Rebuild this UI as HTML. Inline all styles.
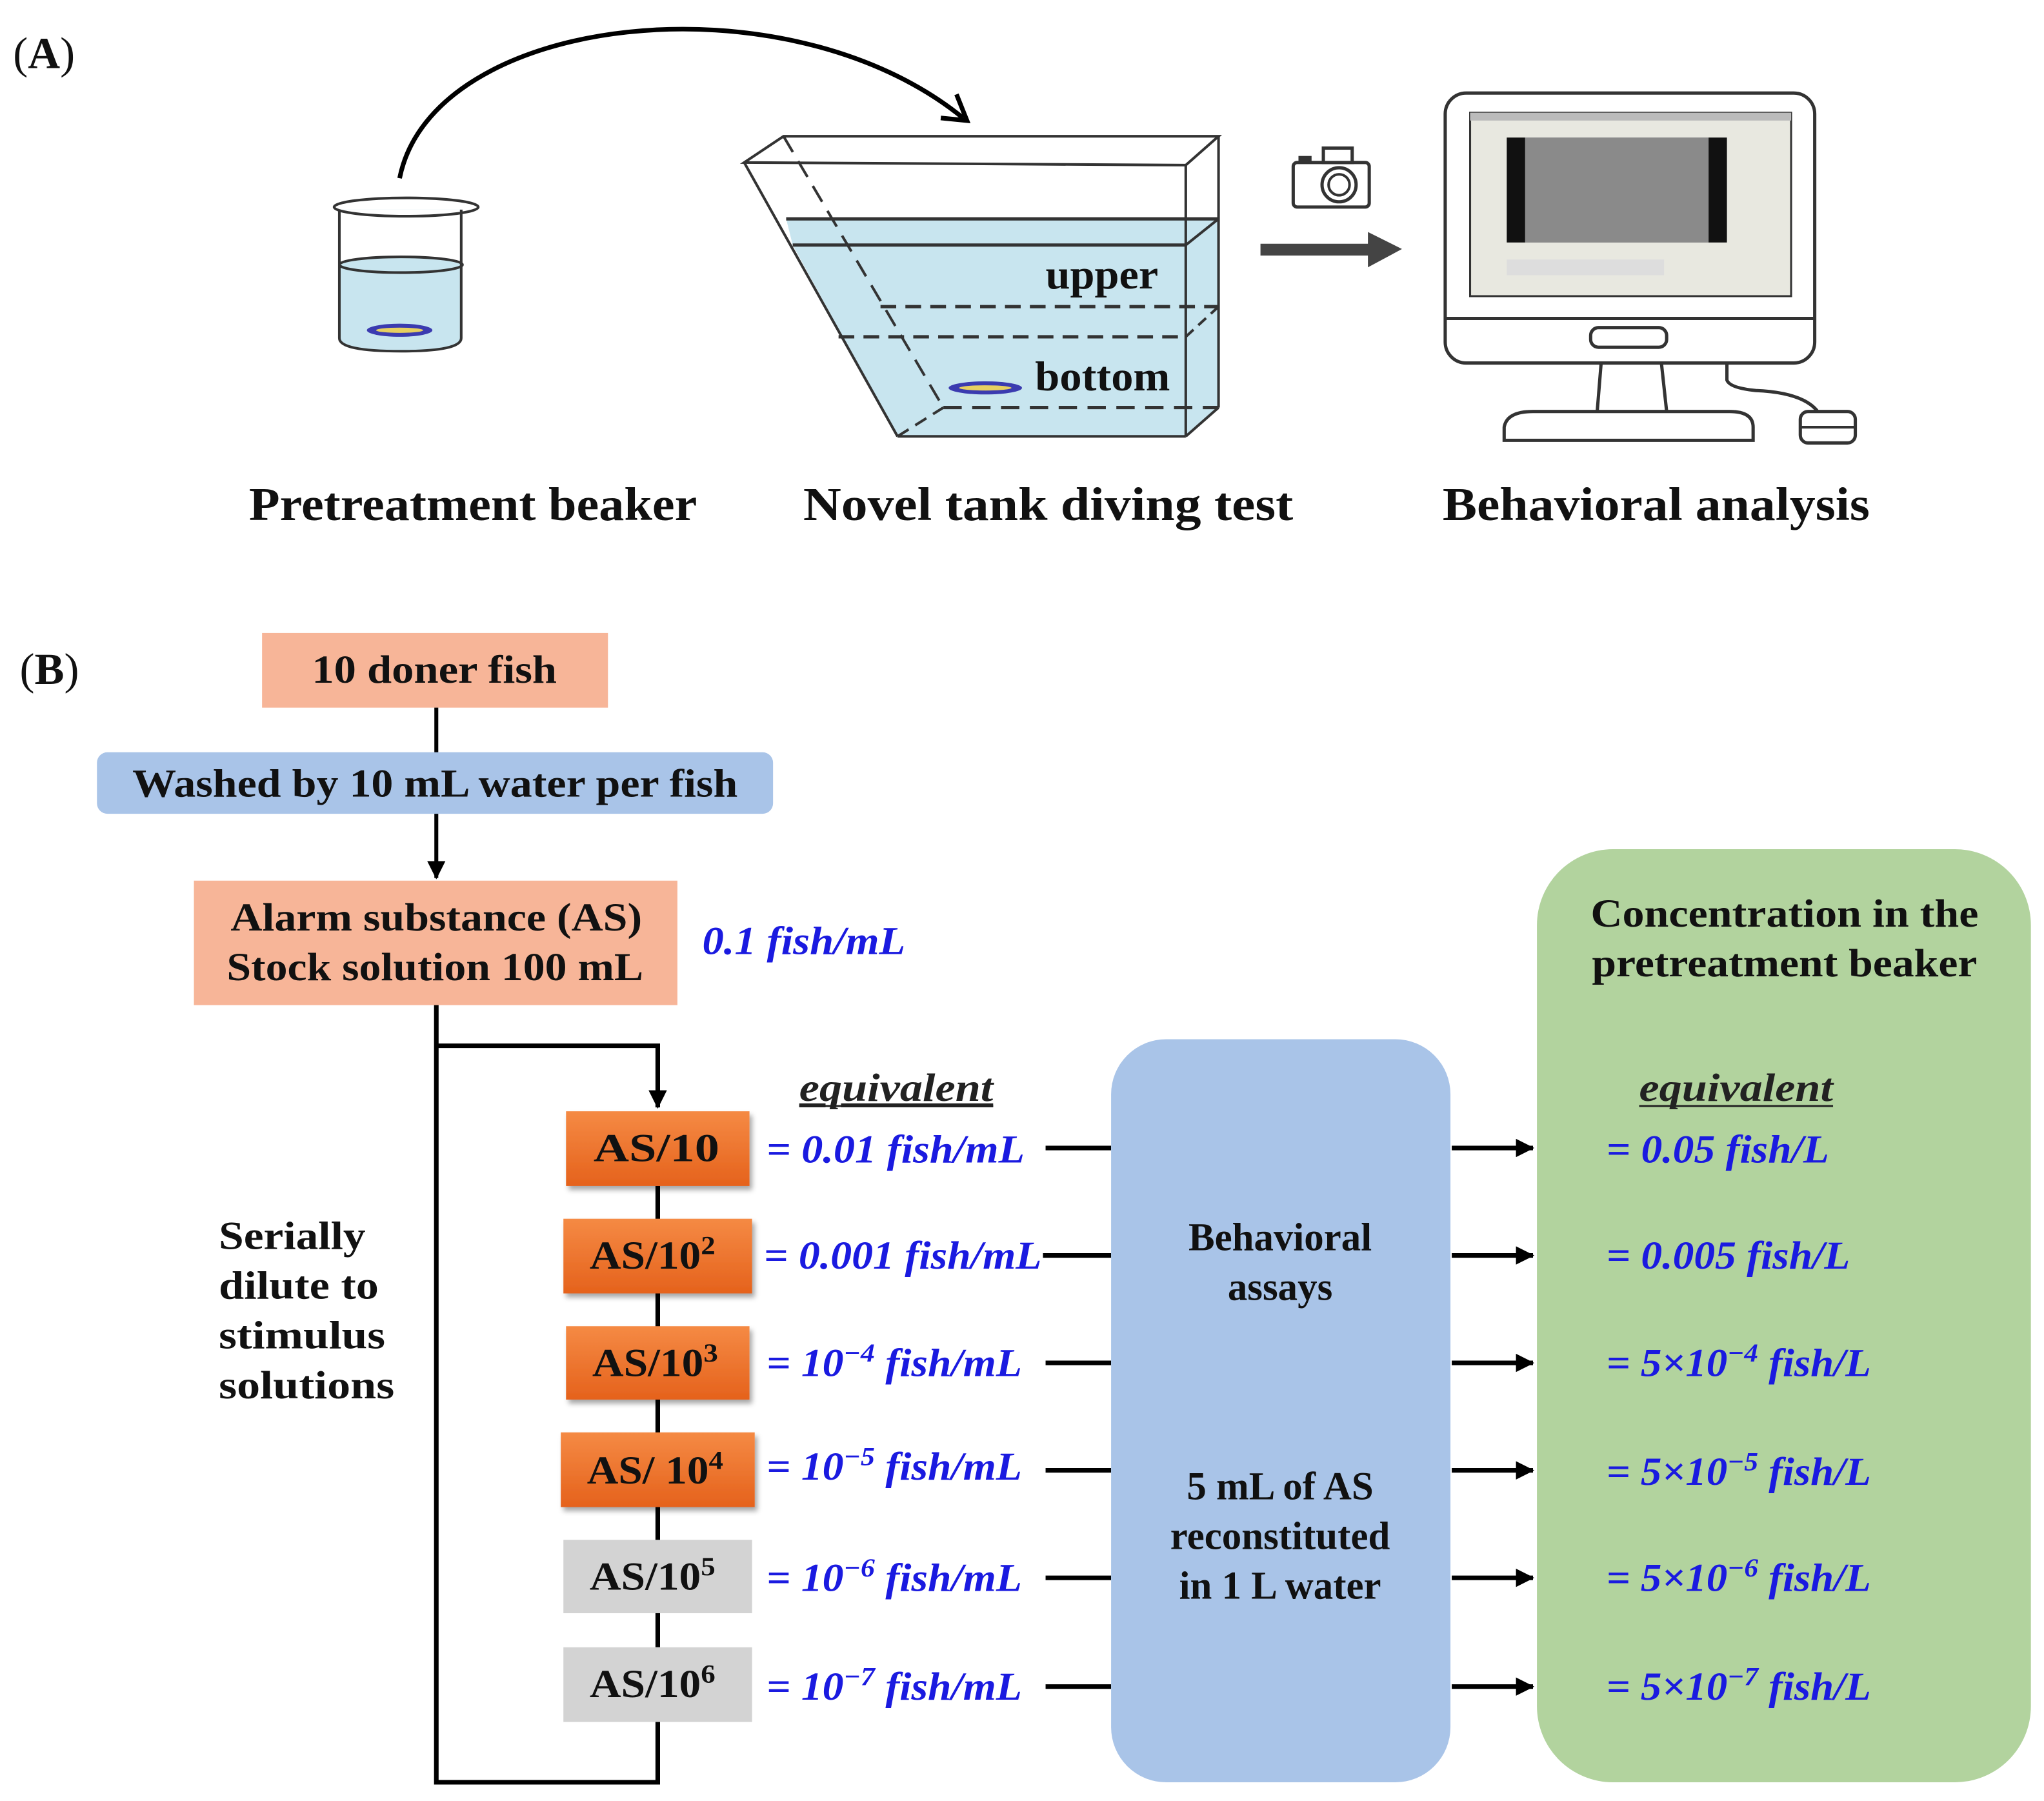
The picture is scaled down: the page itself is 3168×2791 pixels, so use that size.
<!DOCTYPE html>
<html><head><meta charset="utf-8"><style>
html,body{margin:0;padding:0;background:#fff;}
svg{display:block;}
.s{font-family:"Liberation Serif",serif;font-weight:bold;fill:#111;}
.v{font-family:"Liberation Serif",serif;font-weight:bold;font-style:italic;fill:#1a1ae0;}
</style></head><body>
<svg width="3168" height="2791" viewBox="0 0 1560 1374.3" preserveAspectRatio="none" xmlns="http://www.w3.org/2000/svg">
<defs>
<marker id="ah" markerWidth="8" markerHeight="8" refX="7" refY="4" orient="auto" markerUnits="userSpaceOnUse"><path d="M0,0 L8,4 L0,8 z" fill="#000"/></marker>
<marker id="ah2" markerWidth="14" markerHeight="14" refX="13" refY="7" orient="auto" markerUnits="userSpaceOnUse"><path d="M0,0 L14,7 L0,14 z" fill="#000"/></marker>
<linearGradient id="og" x1="0" y1="0" x2="0" y2="1"><stop offset="0" stop-color="#f58a44"/><stop offset="1" stop-color="#e5621c"/></linearGradient>
<filter id="sh" x="-10%" y="-10%" width="130%" height="140%"><feDropShadow dx="2" dy="3" stdDeviation="2" flood-color="#000" flood-opacity="0.35"/></filter>
</defs>
<!-- (A) -->
<text class="s" x="10" y="52" font-size="34" font-weight="normal" style="font-weight:normal">(<tspan font-weight="bold">A</tspan>)</text>
<!-- arc -->
<path d="M305,136 C330,10 600,-20 735,90" fill="none" stroke="#000" stroke-width="3.5"/>
<path d="M718,90 L738,92 L730,72" fill="none" stroke="#000" stroke-width="3.5"/>
<!-- beaker -->
<path d="M259,160 L259,258 Q259,268 306,268 Q352,268 352,258 L352,160" fill="#c8e5ef" stroke="none"/>
<rect x="259" y="160" width="93" height="42" fill="#fff"/>
<ellipse cx="306" cy="202" rx="47" ry="6" fill="#c8e5ef" stroke="#333" stroke-width="2"/>
<path d="M259,160 L259,258 Q259,268 306,268 Q352,268 352,258 L352,160" fill="none" stroke="#333" stroke-width="2"/>
<ellipse cx="310" cy="158" rx="55" ry="7" fill="none" stroke="#333" stroke-width="2"/>
<ellipse cx="305" cy="252" rx="25" ry="5" fill="#3b3bb0"/><ellipse cx="305" cy="252" rx="18" ry="2" fill="#e8d060"/>
<!-- tank -->
<polygon points="600,167 930,167 930,311 905,333 685,333 605,187" fill="#c8e5ef"/>
<polygon points="568,124 598,104 930,104 905,126" fill="none" stroke="#333" stroke-width="2"/>
<line x1="568" y1="124" x2="685" y2="333" stroke="#333" stroke-width="2"/>
<line x1="905" y1="126" x2="905" y2="333" stroke="#333" stroke-width="2"/>
<line x1="930" y1="104" x2="930" y2="311" stroke="#333" stroke-width="2"/>
<line x1="685" y1="333" x2="905" y2="333" stroke="#333" stroke-width="2"/>
<line x1="905" y1="333" x2="930" y2="311" stroke="#333" stroke-width="2"/>
<line x1="598" y1="104" x2="720" y2="311" stroke="#333" stroke-width="2" stroke-dasharray="14,8"/>
<line x1="720" y1="311" x2="930" y2="311" stroke="#333" stroke-width="2.5" stroke-dasharray="14,8"/>
<line x1="685" y1="333" x2="720" y2="311" stroke="#333" stroke-width="2" stroke-dasharray="10,6"/>
<line x1="600" y1="167" x2="930" y2="167" stroke="#333" stroke-width="2.5"/>
<line x1="605" y1="187" x2="905" y2="187" stroke="#333" stroke-width="2.5"/>
<line x1="905" y1="187" x2="930" y2="167" stroke="#333" stroke-width="2"/>
<line x1="672" y1="234" x2="930" y2="234" stroke="#333" stroke-width="2.5" stroke-dasharray="12,7"/>
<line x1="640" y1="257" x2="905" y2="257" stroke="#333" stroke-width="2.5" stroke-dasharray="12,7"/>
<line x1="905" y1="257" x2="930" y2="234" stroke="#333" stroke-width="2" stroke-dasharray="8,5"/>
<text class="s" x="798" y="220" font-size="32" font-weight="normal" textLength="86" lengthAdjust="spacingAndGlyphs">upper</text>
<text class="s" x="790" y="298" font-size="32" font-weight="normal" textLength="103" lengthAdjust="spacingAndGlyphs">bottom</text>
<ellipse cx="752" cy="296" rx="28" ry="5" fill="#3b3bb0"/><ellipse cx="752" cy="296" rx="20" ry="2" fill="#e8d060"/>
<!-- camera -->
<rect x="987" y="124" width="58" height="34" rx="3" fill="#fff" stroke="#333" stroke-width="2.5"/>
<rect x="1010" y="113" width="22" height="11" fill="#fff" stroke="#333" stroke-width="2.5"/>
<rect x="991" y="119" width="10" height="5" fill="#333"/>
<circle cx="1022" cy="141" r="13" fill="none" stroke="#333" stroke-width="2.5"/>
<circle cx="1022" cy="141" r="8" fill="none" stroke="#333" stroke-width="2"/>
<!-- grey arrow -->
<rect x="962" y="186" width="84" height="9" fill="#444"/>
<polygon points="1044,177 1070,190 1044,204" fill="#444"/>
<!-- monitor -->
<rect x="1103" y="71" width="282" height="206" rx="16" fill="#fff" stroke="#333" stroke-width="2.5"/>
<line x1="1103" y1="243" x2="1385" y2="243" stroke="#333" stroke-width="2.5"/>
<rect x="1122" y="86" width="245" height="140" fill="#e8e8e0" stroke="#333" stroke-width="1.5"/>
<rect x="1122" y="86" width="245" height="6" fill="#bbb"/>
<rect x="1150" y="105" width="168" height="80" fill="#777"/>
<rect x="1150" y="105" width="14" height="80" fill="#111"/><rect x="1304" y="105" width="14" height="80" fill="#111"/>
<rect x="1164" y="105" width="140" height="80" fill="#8a8a8a"/>
<rect x="1150" y="198" width="120" height="12" fill="#ddd"/>
<rect x="1214" y="250" width="58" height="15" rx="6" fill="#fff" stroke="#333" stroke-width="2.5"/>
<path d="M1222,277 L1219,314 M1268,277 L1272,314" stroke="#333" stroke-width="2.5"/>
<path d="M1148,336 L1148,326 Q1150,314 1170,314 L1320,314 Q1338,314 1338,326 L1338,336 Z" fill="#fff" stroke="#333" stroke-width="2.5"/>
<path d="M1318,277 L1318,290 Q1320,296 1340,298 Q1388,300 1392,325" fill="none" stroke="#333" stroke-width="2.5"/>
<rect x="1374" y="314" width="42" height="24" rx="6" fill="#fff" stroke="#333" stroke-width="2.5"/>
<line x1="1374" y1="326" x2="1416" y2="326" stroke="#333" stroke-width="2"/>
<!-- A labels -->
<text class="s" x="190" y="397" font-size="36" textLength="342" lengthAdjust="spacingAndGlyphs">Pretreatment beaker</text>
<text class="s" x="613" y="397" font-size="36" textLength="374" lengthAdjust="spacingAndGlyphs">Novel tank diving test</text>
<text class="s" x="1101" y="397" font-size="36" textLength="326" lengthAdjust="spacingAndGlyphs">Behavioral analysis</text>

<!-- (B) -->
<text class="s" x="15" y="522" font-size="34" style="font-weight:normal">(<tspan font-weight="bold">B</tspan>)</text>
<rect x="200" y="483" width="264" height="57" fill="#f7b598"/>
<text class="s" x="238" y="521" font-size="30" textLength="187" lengthAdjust="spacingAndGlyphs">10 doner fish</text>
<line x1="333" y1="540" x2="333" y2="575" stroke="#000" stroke-width="3"/>
<rect x="74" y="574" width="516" height="47" rx="8" fill="#a9c4e8"/>
<text class="s" x="101" y="608" font-size="30" textLength="462" lengthAdjust="spacingAndGlyphs">Washed by 10 mL water per fish</text>
<line x1="333" y1="621" x2="333" y2="670" stroke="#000" stroke-width="3" marker-end="url(#ah2)"/>
<rect x="148" y="672" width="369" height="95" fill="#f7b598"/>
<text class="s" x="176" y="710" font-size="30" textLength="314" lengthAdjust="spacingAndGlyphs">Alarm substance (AS)</text>
<text class="s" x="173" y="748" font-size="30" textLength="318" lengthAdjust="spacingAndGlyphs">Stock solution 100 mL</text>
<text class="v" x="536" y="728" font-size="30" textLength="155" lengthAdjust="spacingAndGlyphs">0.1 fish/mL</text>
<!-- loop lines -->
<polyline points="333,767 333,1360 502,1360 502,1314" fill="none" stroke="#000" stroke-width="3.5"/>
<polyline points="333,798 502,798 502,845" fill="none" stroke="#000" stroke-width="3.5" marker-end="url(#ah2)"/>
<line x1="502" y1="905" x2="502" y2="1257" stroke="#000" stroke-width="3.5"/>
<text class="s" x="167" y="953" font-size="30" textLength="112" lengthAdjust="spacingAndGlyphs">Serially</text>
<text class="s" x="167" y="991" font-size="30" textLength="122" lengthAdjust="spacingAndGlyphs">dilute to</text>
<text class="s" x="167" y="1029" font-size="30" textLength="127" lengthAdjust="spacingAndGlyphs">stimulus</text>
<text class="s" x="167" y="1067" font-size="30" textLength="134" lengthAdjust="spacingAndGlyphs">solutions</text>
<!-- AS boxes -->
<g filter="url(#sh)">
<rect x="432" y="848" width="140" height="57" fill="url(#og)"/>
<rect x="430" y="930" width="144" height="57" fill="url(#og)"/>
<rect x="432" y="1012" width="140" height="56" fill="url(#og)"/>
<rect x="428" y="1093" width="148" height="57" fill="url(#og)"/>
</g>
<rect x="430" y="1175" width="144" height="56" fill="#d3d3d3"/>
<rect x="430" y="1257" width="144" height="57" fill="#d3d3d3"/>
<text class="s" x="453" y="886" font-size="30" fill="#222" textLength="96" lengthAdjust="spacingAndGlyphs">AS/10</text>
<text class="s" x="450" y="968" font-size="30" textLength="96" lengthAdjust="spacingAndGlyphs">AS/10<tspan font-size="20" dy="-11">2</tspan></text>
<text class="s" x="452" y="1050" font-size="30" textLength="96" lengthAdjust="spacingAndGlyphs">AS/10<tspan font-size="20" dy="-11">3</tspan></text>
<text class="s" x="448" y="1132" font-size="30" textLength="104" lengthAdjust="spacingAndGlyphs">AS/ 10<tspan font-size="20" dy="-11">4</tspan></text>
<text class="s" x="450" y="1213" font-size="30" textLength="96" lengthAdjust="spacingAndGlyphs">AS/10<tspan font-size="20" dy="-11">5</tspan></text>
<text class="s" x="450" y="1295" font-size="30" textLength="96" lengthAdjust="spacingAndGlyphs">AS/10<tspan font-size="20" dy="-11">6</tspan></text>
<!-- equivalent left -->
<text x="610" y="840" font-family="Liberation Serif,serif" font-weight="bold" font-style="italic" font-size="30" fill="#222" textLength="148" lengthAdjust="spacingAndGlyphs" text-decoration="underline">equivalent</text>
<line x1="610" y1="844" x2="758" y2="844" stroke="#222" stroke-width="1.5"/>
<text class="v" x="585" y="887" font-size="30" textLength="197" lengthAdjust="spacingAndGlyphs">= 0.01 fish/mL</text>
<text class="v" x="583" y="968" font-size="30" textLength="212" lengthAdjust="spacingAndGlyphs">= 0.001 fish/mL</text>
<text class="v" x="585" y="1050" font-size="30" textLength="195" lengthAdjust="spacingAndGlyphs">= 10<tspan font-size="20" dy="-11">−4</tspan><tspan dy="11"> fish/mL</tspan></text>
<text class="v" x="585" y="1129" font-size="30" textLength="195" lengthAdjust="spacingAndGlyphs">= 10<tspan font-size="20" dy="-11">−5</tspan><tspan dy="11"> fish/mL</tspan></text>
<text class="v" x="585" y="1214" font-size="30" textLength="195" lengthAdjust="spacingAndGlyphs">= 10<tspan font-size="20" dy="-11">−6</tspan><tspan dy="11"> fish/mL</tspan></text>
<text class="v" x="585" y="1297" font-size="30" textLength="195" lengthAdjust="spacingAndGlyphs">= 10<tspan font-size="20" dy="-11">−7</tspan><tspan dy="11"> fish/mL</tspan></text>
<g stroke="#000" stroke-width="3.5">
<line x1="798" y1="876" x2="848" y2="876"/>
<line x1="796" y1="958" x2="848" y2="958"/>
<line x1="798" y1="1040" x2="848" y2="1040"/>
<line x1="798" y1="1122" x2="848" y2="1122"/>
<line x1="798" y1="1204" x2="848" y2="1204"/>
<line x1="798" y1="1287" x2="848" y2="1287"/>
</g>
<!-- behavioral box -->
<rect x="848" y="793" width="259" height="567" rx="42" fill="#a9c4e8"/>
<text class="s" x="977" y="954" font-size="30" text-anchor="middle">Behavioral</text>
<text class="s" x="977" y="992" font-size="30" text-anchor="middle">assays</text>
<text class="s" x="977" y="1144" font-size="30" text-anchor="middle">5 mL of AS</text>
<text class="s" x="977" y="1182" font-size="30" text-anchor="middle">reconstituted</text>
<text class="s" x="977" y="1220" font-size="30" text-anchor="middle">in 1 L water</text>
<!-- green box -->
<rect x="1173" y="648" width="377" height="712" rx="58" fill="#b2d39e"/>
<g stroke="#000" stroke-width="3.5">
<line x1="1108" y1="876" x2="1170" y2="876" marker-end="url(#ah2)"/>
<line x1="1108" y1="958" x2="1170" y2="958" marker-end="url(#ah2)"/>
<line x1="1108" y1="1040" x2="1170" y2="1040" marker-end="url(#ah2)"/>
<line x1="1108" y1="1122" x2="1170" y2="1122" marker-end="url(#ah2)"/>
<line x1="1108" y1="1204" x2="1170" y2="1204" marker-end="url(#ah2)"/>
<line x1="1108" y1="1287" x2="1170" y2="1287" marker-end="url(#ah2)"/>
</g>
<text class="s" x="1362" y="707" font-size="30" text-anchor="middle" textLength="296" lengthAdjust="spacingAndGlyphs">Concentration in the</text>
<text class="s" x="1362" y="745" font-size="30" text-anchor="middle" textLength="294" lengthAdjust="spacingAndGlyphs">pretreatment beaker</text>
<text x="1251" y="840" font-family="Liberation Serif,serif" font-weight="bold" font-style="italic" font-size="30" fill="#222" textLength="148" lengthAdjust="spacingAndGlyphs">equivalent</text>
<line x1="1251" y1="844" x2="1399" y2="844" stroke="#222" stroke-width="1.5"/>
<text class="v" x="1226" y="887" font-size="30" textLength="170" lengthAdjust="spacingAndGlyphs">= 0.05 fish/L</text>
<text class="v" x="1226" y="968" font-size="30" textLength="186" lengthAdjust="spacingAndGlyphs">= 0.005 fish/L</text>
<text class="v" x="1226" y="1050" font-size="30" textLength="202" lengthAdjust="spacingAndGlyphs">= 5×10<tspan font-size="20" dy="-11">−4</tspan><tspan dy="11"> fish/L</tspan></text>
<text class="v" x="1226" y="1133" font-size="30" textLength="202" lengthAdjust="spacingAndGlyphs">= 5×10<tspan font-size="20" dy="-11">−5</tspan><tspan dy="11"> fish/L</tspan></text>
<text class="v" x="1226" y="1214" font-size="30" textLength="202" lengthAdjust="spacingAndGlyphs">= 5×10<tspan font-size="20" dy="-11">−6</tspan><tspan dy="11"> fish/L</tspan></text>
<text class="v" x="1226" y="1297" font-size="30" textLength="202" lengthAdjust="spacingAndGlyphs">= 5×10<tspan font-size="20" dy="-11">−7</tspan><tspan dy="11"> fish/L</tspan></text>
</svg>
</body></html>
